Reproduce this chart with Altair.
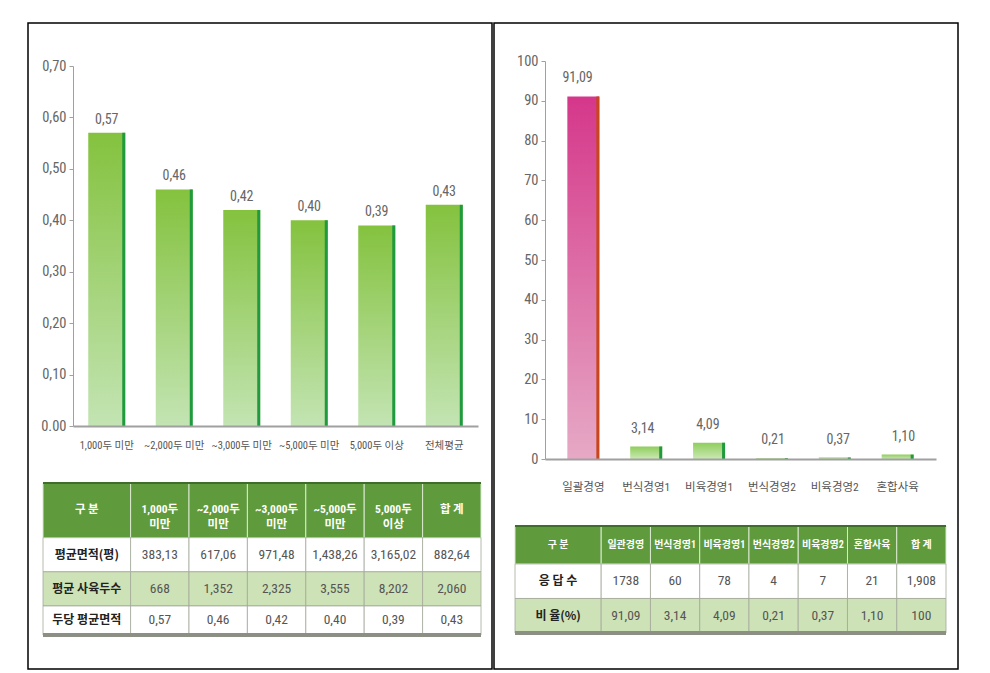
import altair as alt
import pandas as pd

# ---------------- data ----------------
size_groups = ["1,000두 미만", "~2,000두 미만", "~3,000두 미만", "~5,000두 미만", "5,000두 이상", "전체평균"]
area_per_head = [0.57, 0.46, 0.42, 0.40, 0.39, 0.43]

left_header = ["구 분", "1,000두\n미만", "~2,000두\n미만", "~3,000두\n미만", "~5,000두\n미만", "5,000두\n이상", "합 계"]
left_row_labels = ["평균면적(평)", "평균 사육두수", "두당 평균면적"]
left_avg_area = ["383,13", "617,06", "971,48", "1,438,26", "3,165,02", "882,64"]
left_avg_heads = ["668", "1,352", "2,325", "3,555", "8,202", "2,060"]
left_area_head = ["0,57", "0,46", "0,42", "0,40", "0,39", "0,43"]

mgmt_types = ["일괄경영", "번식경영1", "비육경영1", "번식경영2", "비육경영2", "혼합사육"]
ratio_pct = [91.09, 3.14, 4.09, 0.21, 0.37, 1.10]

right_header = ["구 분", "일관경영", "번식경영1", "비육경영1", "번식경영2", "비육경영2", "혼합사육", "합 계"]
right_row_labels = ["응 답 수", "비 율(%)"]
right_responses = ["1738", "60", "78", "4", "7", "21", "1,908"]
right_ratios = ["91,09", "3,14", "4,09", "0,21", "0,37", "1,10", "100"]

# ---------------- style ----------------
NUM_FONT = "Roboto Condensed, Liberation Sans Narrow, Roboto, Noto Sans CJK KR"
KR_FONT = "Noto Sans CJK KR"
PANEL_W, PANEL_H = 464, 646
HEAD_GREEN = "#5f9b3c"
ROW_GREEN = "#cde2b6"


def fmt_comma(v):
    return f"{v:.2f}".replace(".", ",")


def grad(top, bottom):
    return alt.Gradient(gradient="linear", x1=0, x2=0, y1=0, y2=1,
                        stops=[alt.GradientStop(color=top, offset=0),
                               alt.GradientStop(color=bottom, offset=1)])


def bar_layers(cats, vals, xrange, pad_outer, yrange, ydomain, yvalues, ylabel_expr,
               xoff, yoff, bar_w, label_dy, xlab_pad, xlab_size, colors):
    df = pd.DataFrame({"cat": cats, "val": vals, "lab": [fmt_comma(v) for v in vals],
                       "idx": list(range(len(cats)))})
    xs = alt.Scale(domain=cats, range=xrange, paddingInner=0.5, paddingOuter=pad_outer)
    ys = alt.Scale(domain=ydomain, range=yrange, nice=False, zero=True)
    base = alt.Chart(df)
    xa = alt.X("cat:N", scale=xs, sort=cats, title=None,
               axis=alt.Axis(offset=xoff, labelAngle=0, ticks=False, domainColor="#a0a0a0",
                             domainWidth=2, labelPadding=xlab_pad, labelFontSize=xlab_size,
                             labelColor="#555555", labelFont=NUM_FONT, zindex=1))
    ya = alt.Y("val:Q", scale=ys, title=None,
               axis=alt.Axis(offset=yoff, values=yvalues, labelExpr=ylabel_expr, grid=False,
                             tickSize=4, tickColor="#a0a0a0", domainColor="#a0a0a0",
                             labelColor="#666666", labelFontSize=14.5, labelPadding=3,
                             labelFont=NUM_FONT, zindex=1))
    xn = alt.X("cat:N", scale=xs, sort=cats, axis=None)
    yn = alt.Y("val:Q", scale=ys, axis=None)
    # one layer carrying both axes
    layers = [base.mark_bar(opacity=0).encode(x=xa, y=ya)]
    for cond, top, bottom, edge in colors:
        sub = base.transform_filter(cond)
        layers.append(sub.mark_bar(width=bar_w, color=grad(top, bottom)).encode(x=xn, y=yn))
        layers.append(sub.mark_bar(width=3, xOffset=bar_w / 2 - 1.5, color=edge).encode(x=xn, y=yn))
    layers.append(base.mark_text(dy=label_dy, fontSize=14, color="#666666", font=NUM_FONT).encode(
        x=xn, y=yn, text="lab:N"))
    return layers


def table_layers(header, row_labels, rows, col_units, row_units, xrange, yrange, head_size):
    ncol = len(col_units)
    xe = [0]
    for u in col_units:
        xe.append(xe[-1] + u)
    ye = [0]
    for u in row_units:
        ye.append(ye[-1] + u)
    cells = []
    for c in range(ncol):
        cells.append(dict(x0=xe[c], x1=xe[c + 1], y0=ye[0], y1=ye[1], xm=(xe[c] + xe[c + 1]) / 2,
                          ym=(ye[0] + ye[1]) / 2, txt=header[c], kind="head"))
    for r, lab in enumerate(row_labels):
        kind = "odd" if r % 2 == 0 else "even"
        vals = [lab] + list(rows[r])
        for c in range(ncol):
            cells.append(dict(x0=xe[c], x1=xe[c + 1], y0=ye[r + 1], y1=ye[r + 2],
                              xm=(xe[c] + xe[c + 1]) / 2, ym=(ye[r + 1] + ye[r + 2]) / 2,
                              txt=vals[c], kind=kind if c > 0 else kind + "_lab"))
    df = pd.DataFrame(cells)
    xs = alt.Scale(domain=[0, xe[-1]], range=xrange, nice=False, zero=False)
    ys = alt.Scale(domain=[0, ye[-1]], range=yrange, nice=False, zero=False)
    base = alt.Chart(df)
    X = lambda f: alt.X(f"{f}:Q", scale=xs, axis=None)
    Y = lambda f: alt.Y(f"{f}:Q", scale=ys, axis=None)
    head = base.transform_filter("datum.kind == 'head'")
    body = base.transform_filter("datum.kind != 'head'")
    rects_head = head.mark_rect(fill=HEAD_GREEN, stroke="#d9e8cf", strokeWidth=1).encode(
        x=X("x0"), x2="x1", y=Y("y0"), y2="y1")
    rects_body = body.mark_rect(stroke="#a3a89a", strokeWidth=0.8).encode(
        x=X("x0"), x2="x1", y=Y("y0"), y2="y1",
        fill=alt.condition("indexof(datum.kind, 'even') == 0", alt.value(ROW_GREEN), alt.value("#ffffff")))
    t_head = head.mark_text(color="white", fontWeight="bold", fontSize=head_size, font=NUM_FONT,
                            lineBreak="\n", lineHeight=15).encode(x=X("xm"), y=Y("ym"), text="txt:N")
    t_lab = base.transform_filter("indexof(datum.kind, '_lab') > 0").mark_text(
        color="#222222", fontWeight="bold", fontSize=12, font=KR_FONT).encode(
        x=X("xm"), y=Y("ym"), text="txt:N")
    t_num = base.transform_filter("datum.kind == 'odd' || datum.kind == 'even'").mark_text(
        color="#555555", fontSize=13.5, font=NUM_FONT).encode(x=X("xm"), y=Y("ym"), text="txt:N")
    lines = pd.DataFrame({"x0": [0, 0], "x1": [xe[-1], xe[-1]], "y": [0, ye[-1]],
                          "w": ["top", "bottom"]})
    lb = alt.Chart(lines)
    top_line = lb.transform_filter("datum.w == 'top'").mark_rule(color="#3f6d2a", strokeWidth=2).encode(
        x=X("x0"), x2="x1", y=Y("y"))
    bot_line = lb.transform_filter("datum.w == 'bottom'").mark_rule(color="#8b8f84", strokeWidth=4).encode(
        x=X("x0"), x2="x1", y=Y("y"))
    return [rects_head, rects_body, top_line, bot_line, t_head, t_lab, t_num]


# ---------------- left panel ----------------
left_layers = bar_layers(
    size_groups, area_per_head, xrange=[45, 450], pad_outer=0.25, yrange=[403, 43], ydomain=[0, 0.7],
    yvalues=[0, 0.1, 0.2, 0.3, 0.4, 0.5, 0.6, 0.7],
    ylabel_expr="datum.value == 0 ? '0.00' : replace(format(datum.value, '.2f'), '.', ',')",
    xoff=-243, yoff=-45, bar_w=37, label_dy=-13, xlab_pad=14, xlab_size=10.5,
    colors=[("true", "#84c23e", "#c3e4b3", "#1f9a3e")])
left_layers += table_layers(
    left_header, left_row_labels, [left_avg_area, left_avg_heads, left_area_head],
    col_units=[1.5, 1, 1, 1, 1, 1, 1], row_units=[1.6, 1, 1, 0.85],
    xrange=[15, 453], yrange=[460, 612], head_size=11.5)
left = alt.layer(*left_layers).resolve_scale(x="independent", y="independent").properties(
    width=PANEL_W, height=PANEL_H)

# ---------------- right panel ----------------
right_layers = bar_layers(
    mgmt_types, ratio_pct, xrange=[51, 442], pad_outer=0.36, yrange=[436, 38], ydomain=[0, 100],
    yvalues=list(range(0, 101, 10)), ylabel_expr="format(datum.value, 'd')",
    xoff=-210, yoff=-51, bar_w=32, label_dy=-18, xlab_pad=22, xlab_size=11.5,
    colors=[("datum.idx == 0", "#d5378a", "#e6a9c5", "#c8461c"),
            ("datum.idx > 0", "#8fcd5c", "#cbe9b4", "#1f9a3e")])
right_layers += table_layers(
    right_header, right_row_labels, [right_responses, right_ratios],
    col_units=[1.75, 1, 1, 1, 1, 1, 1, 1], row_units=[1.1, 1, 1],
    xrange=[21, 452], yrange=[503, 610], head_size=10)
right = alt.layer(*right_layers).resolve_scale(x="independent", y="independent").properties(
    width=PANEL_W, height=PANEL_H)

chart = alt.hconcat(left, right, spacing=0).properties(
    padding={"left": 19, "top": 14, "right": 5, "bottom": 5}
).configure_view(stroke="black", strokeWidth=1.5)

chart.save("out.html", embed_options={"renderer": "svg", "actions": False})
